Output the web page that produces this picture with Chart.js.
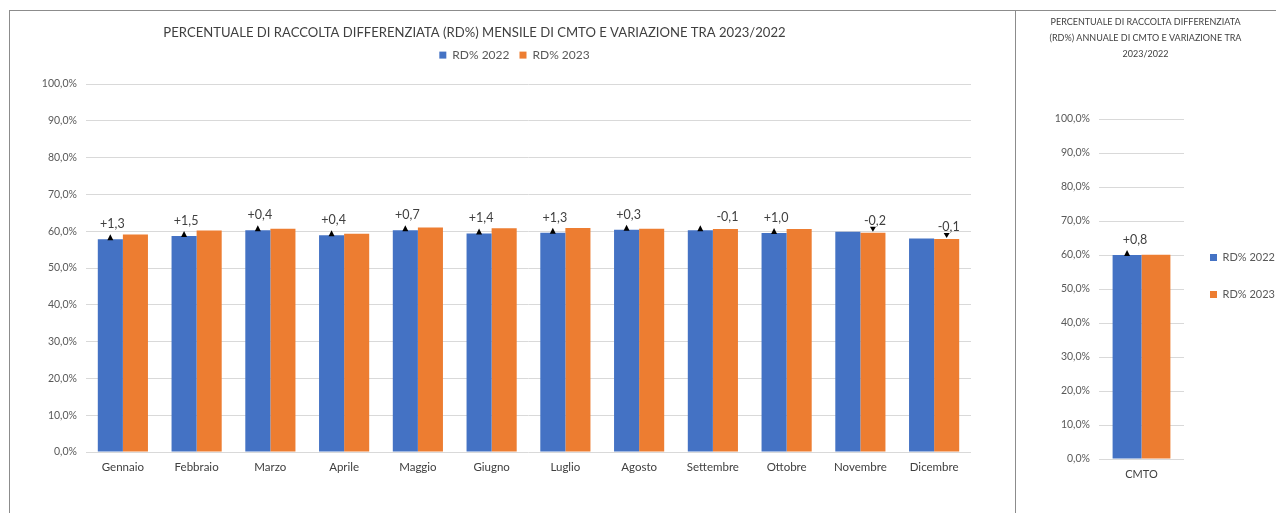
<!DOCTYPE html>
<html>
<head>
<meta charset="utf-8">
<script src="https://cdn.jsdelivr.net/npm/chart.js@4"></script>
<style>
  body { margin: 0; background: #fff; width: 1276px; height: 513px; overflow: hidden; position: relative; }
  .bordo { position: absolute; background: #8c8c8c; }
  canvas { position: absolute; }
</style>
</head>
<body>
<div class="bordo" style="left:9px;top:10px;width:1267px;height:1px"></div>
<div class="bordo" style="left:9px;top:10px;width:1px;height:503px"></div>
<div class="bordo" style="left:1015px;top:10px;width:1px;height:503px"></div>
<canvas id="mesi" width="1005" height="502" style="left:10px;top:11px"></canvas>
<canvas id="annuale" width="259" height="502" style="left:1016px;top:11px"></canvas>
<script>
// dati
const mesi = ['Gennaio', 'Febbraio', 'Marzo', 'Aprile', 'Maggio', 'Giugno', 'Luglio', 'Agosto', 'Settembre', 'Ottobre', 'Novembre', 'Dicembre'];
const rd2022 = [57.8, 58.7, 60.3, 58.9, 60.3, 59.4, 59.6, 60.4, 60.3, 59.5, 59.9, 58.0];
const rd2023 = [59.1, 60.2, 60.7, 59.3, 61.0, 60.8, 60.9, 60.7, 60.6, 60.6, 59.6, 57.9];
const variazioniMesi = ['+1,3', '+1,5', '+0,4', '+0,4', '+0,7', '+1,4', '+1,3', '+0,3', '-0,1', '+1,0', '-0,2', '-0,1'];

const categoriaAnnuale = ['CMTO'];
const cmto2022 = [60.0];
const cmto2023 = [60.1];
const variazioneAnnuale = ['+0,8'];

const BLU = '#4472C4';
const ARANCIO = '#ED7D31';
const GRIGLIA = '#d9d9d9';

Chart.defaults.font.family = 'Lato';
Chart.defaults.color = '#595959';

const formatoPerc = v => v.toFixed(1).replace('.', ',') + '%';

// triangolini + etichette della variazione
const variazionePlugin = {
    id: 'variazione',
    afterDatasetsDraw(chart, args, opts) {
        const ctx = chart.ctx;
        const blu = chart.getDatasetMeta(0).data;
        const ara = chart.getDatasetMeta(1).data;
        ctx.save();
        blu.forEach((b, i) => {
            const o = ara[i];
            ctx.fillStyle = '#000';
            ctx.beginPath();
            if (o.y <= b.y) {
                ctx.moveTo(b.x - 3, b.y + 1); ctx.lineTo(b.x + 3, b.y + 1); ctx.lineTo(b.x, b.y - 5);
            } else {
                ctx.moveTo(o.x - 3, o.y - 6); ctx.lineTo(o.x + 3, o.y - 6); ctx.lineTo(o.x, o.y - 1);
            }
            ctx.fill();
            const txt = opts.labels[i];
            const neg = txt.startsWith('-');
            const ref = neg ? o : b;
            ctx.fillStyle = '#404040';
            ctx.font = '12.5px Lato';
            ctx.textAlign = 'center';
            ctx.textBaseline = 'middle';
            ctx.fillText(txt, ref.x + (opts.dx || 2), ref.y - (neg ? 12 : 15));
        });
        ctx.restore();
    }
};

// ritocca dimensioni/posizione di legenda e titolo
const legendaPlugin = {
    id: 'legendaFit',
    beforeLayout(chart, args, opts) {
        const lg = chart.legend;
        if (!lg || lg._patched) return;
        const fit = lg.fit;
        lg.fit = function () {
            fit.call(this);
            if (opts.altezza) this.height = opts.altezza;
            if (opts.larghezza) this.width = opts.larghezza;
        };
        lg._patched = true;
    },
    afterLayout(chart, args, opts) {
        if (opts.spostaY) {
            chart.legend.top += opts.spostaY;
            chart.legend.bottom += opts.spostaY;
        }
        if (opts.spostaX) {
            chart.legend.left += opts.spostaX;
            chart.legend.right += opts.spostaX;
        }
        if (opts.titoloX && chart.titleBlock) {
            chart.titleBlock.left += opts.titoloX;
            chart.titleBlock.right += opts.titoloX;
        }
    }
};

const datasets = (a, b) => [
    { label: 'RD% 2022', data: a, backgroundColor: BLU, categoryPercentage: 0.68, barPercentage: 1.0 },
    { label: 'RD% 2023', data: b, backgroundColor: ARANCIO, categoryPercentage: 0.68, barPercentage: 1.0 }
];

const scalaY = (larghezza) => ({
    min: 0, max: 100,
    afterFit: s => { s.width = larghezza; },
    ticks: { stepSize: 10, callback: formatoPerc, font: { size: 10.5 }, color: '#595959', padding: 9 },
    grid: { color: GRIGLIA, drawTicks: false },
    border: { display: false }
});

new Chart(document.getElementById('mesi'), {
    type: 'bar',
    data: { labels: mesi, datasets: datasets(rd2022, rd2023) },
    options: {
        responsive: false,
        animation: false,
        layout: { padding: { left: 0, right: 44, top: 0, bottom: 31 } },
        scales: {
            x: {
                afterFit: s => { s.height = 30; },
                ticks: { font: { size: 11.5 }, color: '#404040', padding: 8 },
                grid: { display: false, drawTicks: false },
                border: { display: false }
            },
            y: scalaY(76)
        },
        plugins: {
            title: {
                display: true,
                text: 'PERCENTUALE DI RACCOLTA DIFFERENZIATA (RD%) MENSILE DI CMTO E VARIAZIONE TRA 2023/2022',
                color: '#404040',
                font: { size: 13.1, weight: 'normal', lineHeight: 1 },
                padding: { top: 15, bottom: 0 }
            },
            legend: {
                position: 'top',
                labels: { boxWidth: 7, boxHeight: 7, font: { size: 12 }, color: '#595959', padding: 10 }
            },
            legendaFit: { altezza: 45, spostaX: 24, titoloX: -16 },
            variazione: { labels: variazioniMesi },
            tooltip: { enabled: false }
        }
    },
    plugins: [variazionePlugin, legendaPlugin]
});

new Chart(document.getElementById('annuale'), {
    type: 'bar',
    data: { labels: categoriaAnnuale, datasets: datasets(cmto2022, cmto2023) },
    options: {
        responsive: false,
        animation: false,
        layout: { padding: { left: 0, right: 0, top: 0, bottom: 24 } },
        scales: {
            x: {
                afterFit: s => { s.height = 30; },
                ticks: { font: { size: 11 }, color: '#404040', padding: 9 },
                grid: { display: false, drawTicks: false },
                border: { display: false }
            },
            y: scalaY(83)
        },
        plugins: {
            title: {
                display: true,
                text: ['PERCENTUALE DI RACCOLTA DIFFERENZIATA', '(RD%) ANNUALE DI CMTO E VARIAZIONE TRA', '2023/2022'],
                color: '#404040',
                font: { size: 9, weight: 'normal', lineHeight: 1.78 },
                padding: { top: 3, bottom: 57 }
            },
            legend: {
                position: 'right',
                labels: { boxWidth: 7, boxHeight: 7, font: { size: 11 }, color: '#595959', padding: 26 }
            },
            legendaFit: { larghezza: 91, spostaY: 26 },
            variazione: { labels: variazioneAnnuale, dx: 8 },
            tooltip: { enabled: false }
        }
    },
    plugins: [variazionePlugin, legendaPlugin]
});
</script>
</body>
</html>
